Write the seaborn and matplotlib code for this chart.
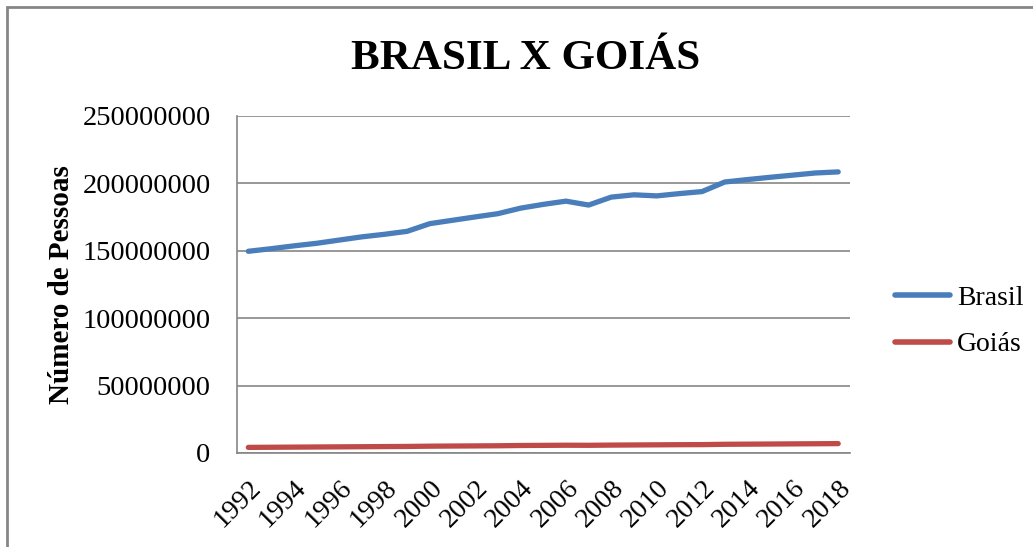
import matplotlib
matplotlib.use("Agg")
import matplotlib.pyplot as plt
import seaborn as sns
import pandas as pd
from matplotlib.patches import Rectangle

# Dados (população estimada)
anos = list(range(1992, 2019))
brasil = [149.6e6, 151.5e6, 153.6e6, 155.5e6, 157.9e6, 160.3e6, 162.2e6, 164.4e6,
          170.1e6, 172.6e6, 175.1e6, 177.5e6, 181.6e6, 184.4e6, 186.8e6, 183.9e6,
          189.8e6, 191.5e6, 190.7e6, 192.4e6, 193.9e6, 201.0e6, 202.8e6, 204.5e6,
          206.1e6, 207.7e6, 208.5e6]
goias = [4.1e6, 4.2e6, 4.3e6, 4.4e6, 4.5e6, 4.6e6, 4.7e6, 4.8e6, 5.0e6, 5.1e6,
         5.2e6, 5.3e6, 5.5e6, 5.6e6, 5.7e6, 5.65e6, 5.8e6, 5.9e6, 6.0e6, 6.1e6,
         6.15e6, 6.4e6, 6.5e6, 6.6e6, 6.7e6, 6.8e6, 6.9e6]
series = ['Brasil', 'Goiás']
cores = ['#4A7EBB', '#BE4B48']

df = pd.DataFrame({
    'Ano': anos * 2,
    'Pessoas': brasil + goias,
    'Serie': ['Brasil'] * len(anos) + ['Goiás'] * len(anos),
})

sns.set_style("white", rc={'text.color': 'black', 'axes.labelcolor': 'black',
                           'xtick.color': 'black', 'ytick.color': 'black'})
plt.rcParams['font.family'] = ['Liberation Serif', 'DejaVu Serif']

fig = plt.figure(figsize=(10.33, 5.47), dpi=100)
ax = fig.add_axes([0.2294, 0.172, 0.593, 0.616])

sns.lineplot(data=df, x='Ano', y='Pessoas', hue='Serie', hue_order=series,
             palette=cores, linewidth=3.8, ax=ax, solid_capstyle='round')

ax.set_xlim(1991.5, 2018.5)
ax.set_ylim(0, 250000000)
ax.set_yticks(range(0, 250000001, 50000000))
ax.set_yticklabels([str(v) for v in range(0, 250000001, 50000000)], fontsize=20.5)
ax.set_xticks(anos[::2])
ax.set_xticklabels([str(a) for a in anos[::2]], fontsize=20, rotation=45,
                   ha='right', rotation_mode='anchor')
ax.yaxis.grid(True, color='#868686', linewidth=1.2)
ax.xaxis.grid(False)
for s in ['top', 'right']:
    ax.spines[s].set_visible(False)
for s in ['left', 'bottom']:
    ax.spines[s].set_color('#868686')
    ax.spines[s].set_linewidth(1.2)
ax.tick_params(axis='y', length=0, pad=19)
ax.tick_params(axis='x', length=0, pad=16)
ax.set_xlabel('')
ax.set_ylabel('Número de Pessoas', fontsize=21, fontweight='bold', labelpad=5)

fig.text(0.509, 0.893, 'BRASIL X GOIÁS', ha='center', va='center',
         fontsize=31, fontweight='bold')

leg = ax.legend(loc='center left', bbox_to_anchor=(1.033, 0.39), frameon=False,
                fontsize=20, handlelength=2.0, labelspacing=0.75, handletextpad=0.25)
for line in leg.get_lines():
    line.set_linewidth(4)
    line.set_solid_capstyle('round')

fig.patches.append(Rectangle((7 / 1033, -0.1), 1.2, 1 - 7 / 547 + 0.1,
                             transform=fig.transFigure, fill=False,
                             edgecolor='#868686', linewidth=2))

fig.savefig('out.png', dpi=100)
